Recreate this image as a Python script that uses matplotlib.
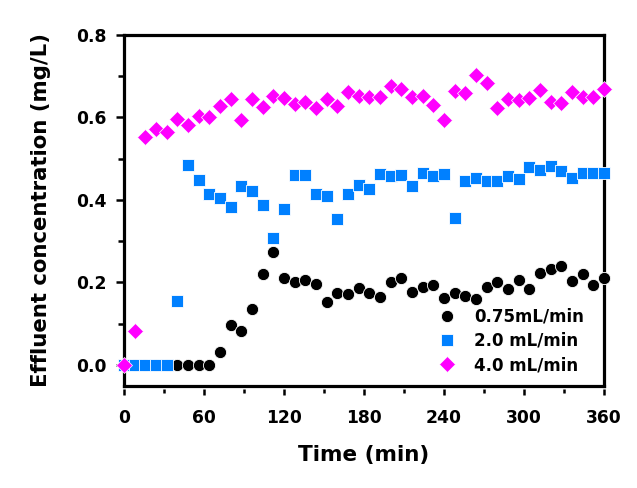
import matplotlib
matplotlib.use("Agg")
import matplotlib.pyplot as plt
from matplotlib.ticker import MultipleLocator

# Sampling times (min)
time_min = [0, 8, 16, 24, 32, 40, 48, 56, 64, 72, 80, 88, 96, 104, 112, 120,
            128, 136, 144, 152, 160, 168, 176, 184, 192, 200, 208, 216, 224,
            232, 240, 248, 256, 264, 272, 280, 288, 296, 304, 312, 320, 328,
            336, 344, 352, 360]

# Effluent concentration (mg/L)
flow_075 = [0, 0, 0, 0, 0, 0, 0, 0, 0, 0.032, 0.097, 0.082, 0.136, 0.221,
            0.275, 0.210, 0.200, 0.206, 0.196, 0.152, 0.174, 0.172, 0.186,
            0.174, 0.166, 0.202, 0.210, 0.178, 0.190, 0.194, 0.162, 0.174,
            0.168, 0.160, 0.190, 0.200, 0.185, 0.206, 0.185, 0.222, 0.232,
            0.240, 0.204, 0.221, 0.193, 0.210]
flow_20 = [0, 0, 0, 0, 0, 0.156, 0.485, 0.448, 0.414, 0.406, 0.384, 0.435,
           0.422, 0.388, 0.307, 0.377, 0.461, 0.461, 0.414, 0.410, 0.353,
           0.414, 0.436, 0.427, 0.462, 0.457, 0.461, 0.434, 0.466, 0.457,
           0.462, 0.357, 0.447, 0.454, 0.447, 0.447, 0.459, 0.451, 0.481,
           0.473, 0.483, 0.470, 0.454, 0.465, 0.465, 0.466]
flow_40 = [0, 0.082, 0.552, 0.572, 0.564, 0.596, 0.583, 0.604, 0.602, 0.628,
           0.646, 0.594, 0.645, 0.625, 0.652, 0.648, 0.633, 0.637, 0.622,
           0.646, 0.628, 0.661, 0.652, 0.650, 0.650, 0.676, 0.669, 0.650,
           0.653, 0.630, 0.594, 0.664, 0.659, 0.704, 0.684, 0.624, 0.644,
           0.642, 0.648, 0.667, 0.637, 0.634, 0.663, 0.649, 0.649, 0.668]

labels = ["0.75mL/min", "2.0 mL/min", "4.0 mL/min"]

plt.rcParams.update({
    "font.family": ["DejaVu Sans"],
    "font.weight": "bold",
    "axes.labelweight": "bold",
})

W, H = 637, 488
fig = plt.figure(figsize=(W / 100, H / 100), dpi=100)
ax = fig.add_axes([124 / W, 1 - 385.6 / H, 480 / W, 350.6 / H])

ax.plot(time_min, flow_075, "o", color="black", markersize=8.8,
        markeredgecolor="white", markeredgewidth=0.6, clip_on=False,
        label=labels[0], zorder=3)
ax.plot(time_min, flow_20, "s", color="#0080FF", markersize=8.6,
        markeredgecolor="white", markeredgewidth=0.6, clip_on=False,
        label=labels[1], zorder=4)
ax.plot(time_min, flow_40, "D", color="#FF00FF", markersize=8.0,
        markeredgecolor="white", markeredgewidth=0.5, clip_on=False,
        label=labels[2], zorder=5)

ax.set_xlim(0, 360)
ax.set_ylim(-0.05, 0.8)
ax.xaxis.set_major_locator(MultipleLocator(60))
ax.xaxis.set_minor_locator(MultipleLocator(30))
ax.yaxis.set_major_locator(MultipleLocator(0.2))
ax.yaxis.set_minor_locator(MultipleLocator(0.1))
ax.yaxis.set_major_formatter(lambda v, _: f"{v:.1f}")

for side in ["left", "right", "top"]:
    ax.spines[side].set_linewidth(2.3)
# bottom frame line drawn by hand so the x ticks sit slightly below it
ax.spines["bottom"].set_visible(False)
ax.spines["bottom"].set_position(("outward", 2.5))
ax.plot([0, 1], [0, 0], transform=ax.transAxes, color="black", lw=2.3,
        solid_capstyle="projecting", clip_on=False, zorder=6)

ax.tick_params(which="both", direction="out", width=1.8, labelsize=12.3,
               top=False, right=False)
ax.tick_params(axis="y", which="major", length=5.5, pad=7)
ax.tick_params(axis="y", which="minor", length=4)
ax.tick_params(axis="x", which="major", length=4.5, pad=10)
ax.tick_params(axis="x", which="minor", length=3)

ax.set_xlabel("Time (min)", fontsize=15.5)
ax.set_ylabel("Effluent concentration (mg/L)", fontsize=15.3)
ax.xaxis.set_label_coords(0.5, -0.168)
ax.yaxis.set_label_coords(-0.152, 0.5)

ax.legend(loc="upper left", bbox_to_anchor=(439 / W, 1 - 307.5 / H),
          bbox_transform=fig.transFigure, frameon=False, fontsize=12,
          handlelength=1.0, handletextpad=1.1, labelspacing=0.38,
          borderpad=0, borderaxespad=0)

fig.savefig("out.png", dpi=100)
